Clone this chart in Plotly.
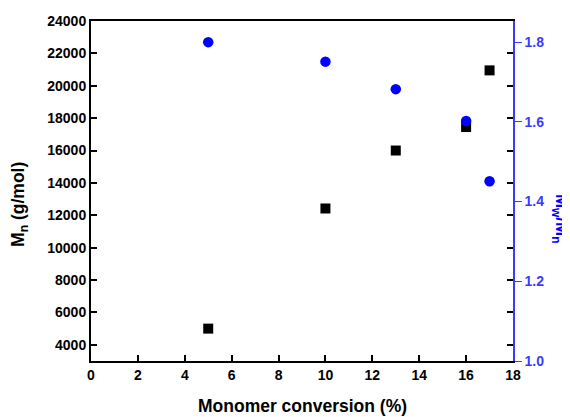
import plotly.graph_objects as go

conversion = [5, 10, 13, 16, 17]
mn_values = [5000, 12420, 16000, 17450, 20950]
pdi_values = [1.80, 1.751, 1.682, 1.602, 1.451]

x_ticks = [0, 2, 4, 6, 8, 10, 12, 14, 16, 18]
y_ticks = [4000, 6000, 8000, 10000, 12000, 14000, 16000, 18000, 20000, 22000, 24000]
y2_ticks = [1.0, 1.2, 1.4, 1.6, 1.8]

FONT = "Liberation Sans"
BLUE = "#0000ff"
AXBLUE = "#3a3aff"
TICK = 14

fig = go.Figure()
fig.add_trace(go.Scatter(x=conversion, y=mn_values, mode="markers",
                         marker=dict(symbol="square", size=10, color="black"),
                         showlegend=False))
fig.add_trace(go.Scatter(x=conversion, y=pdi_values, mode="markers", yaxis="y2",
                         marker=dict(symbol="circle", size=10.5, color=BLUE),
                         showlegend=False))

fig.update_layout(
    width=562, height=409,
    margin=dict(l=83, r=57, t=13, b=56, autoexpand=False),
    plot_bgcolor="white", paper_bgcolor="white",
    font=dict(family=FONT, color="black"),
    xaxis=dict(range=[0, 18], tickvals=x_ticks, ticktext=[str(v) for v in x_ticks],
               ticks="inside", ticklen=6, tickwidth=1.5, tickcolor="black",
               showline=True, linecolor="black", linewidth=2, mirror=True,
               showgrid=False, zeroline=False,
               tickfont=dict(size=TICK, weight="bold", family=FONT, color="black")),
    yaxis=dict(range=[3000, 24000], tickvals=y_ticks, ticktext=[str(v) for v in y_ticks],
               ticks="inside", ticklen=6, tickwidth=1.5, tickcolor="black",
               showline=True, linecolor="black", linewidth=2, mirror="ticks",
               showgrid=False, zeroline=False,
               tickfont=dict(size=TICK, weight="bold", family=FONT, color="black")),
    yaxis2=dict(range=[1.0, 1.853], overlaying="y", side="right",
                tickvals=y2_ticks, ticktext=[f"{v:.1f}" for v in y2_ticks],
                ticks="outside", ticklen=7, tickwidth=1, tickcolor=AXBLUE,
                showline=True, linecolor=AXBLUE, linewidth=1.5,
                showgrid=False, zeroline=False,
                tickfont=dict(size=TICK, weight="bold", family=FONT, color=AXBLUE)),
    annotations=[
        dict(text="Monomer conversion (%)", x=0.5, xref="paper", xanchor="center",
             y=0, yref="paper", yanchor="middle", yshift=-45, showarrow=False,
             font=dict(size=17.5, weight="bold", family=FONT, color="black")),
        dict(text="M<sub>n</sub> (g/mol)", textangle=-90,
             x=0, xref="paper", xanchor="center", xshift=-71,
             y=0.459, yref="paper", yanchor="middle", showarrow=False,
             font=dict(size=17.5, weight="bold", family=FONT, color="black")),
        dict(text="M<sub>w</sub>/M<sub>n</sub>", textangle=90,
             x=1.0, xref="paper", xanchor="center", xshift=47,
             y=0.418, yref="paper", yanchor="middle", showarrow=False,
             font=dict(size=17, weight="bold", family=FONT, color=BLUE)),
    ],
)

fig.write_html("out.html")
